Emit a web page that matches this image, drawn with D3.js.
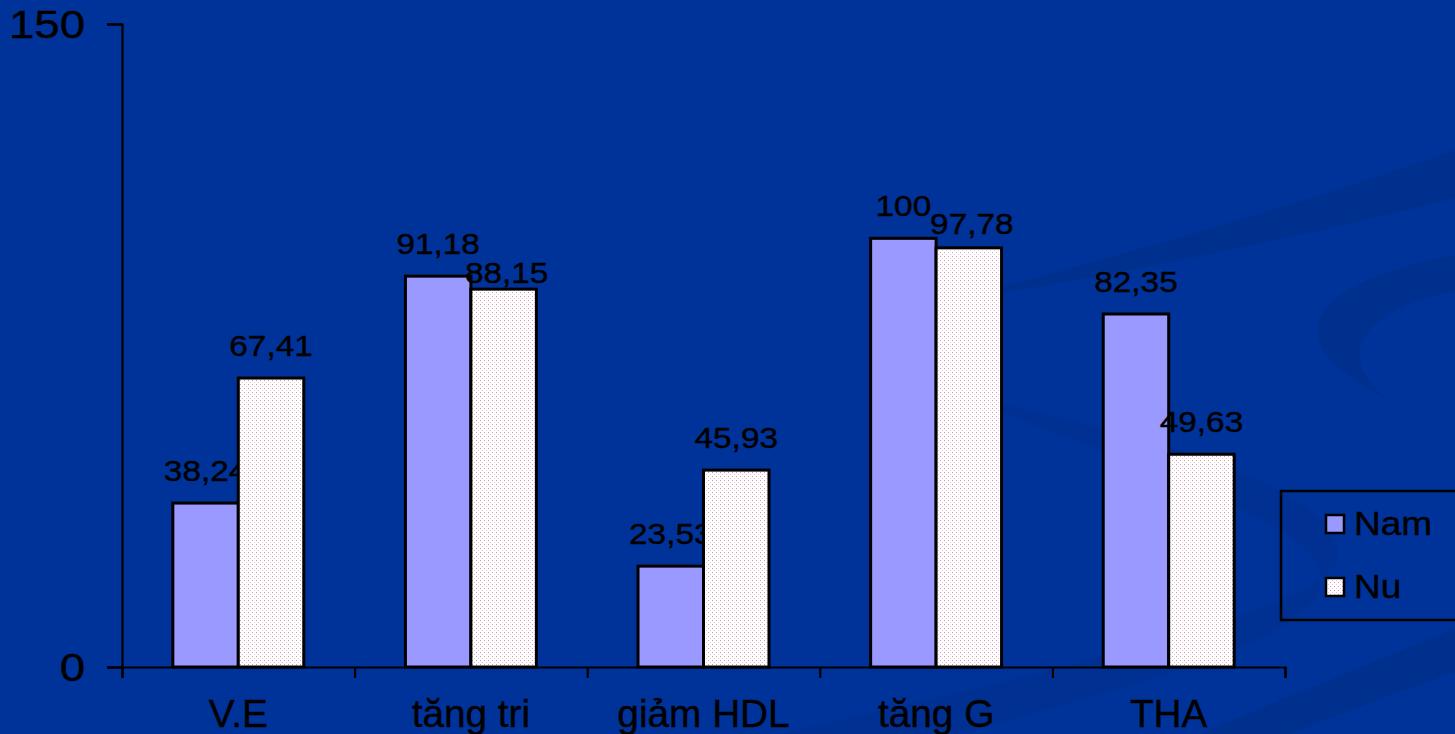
<!DOCTYPE html>
<html>
<head>
<meta charset="utf-8">
<script src="https://cdn.jsdelivr.net/npm/d3@7"></script>
<style>
  html, body { margin: 0; padding: 0; background: #003399; overflow: hidden; }
  svg { display: block; font-family: "Liberation Sans", Arial, sans-serif; }
  svg text { stroke: #000; stroke-width: 0.4px; }
</style>
</head>
<body>
<div id="chart"></div>
<script>
// data
const categories = ['V.E', 'tăng tri', 'giảm HDL', 'tăng G', 'THA'];
const seriesNames = ['Nam', 'Nu'];
const namValues = [38.24, 91.18, 23.53, 100, 82.35];
const nuValues = [67.41, 88.15, 45.93, 97.78, 49.63];
const yTicks = [0, 150];

const W = 1455, H = 734;
const plot = { left: 122, right: 1285, top: 24, bottom: 667 };

const svg = d3.select('#chart').append('svg')
    .attr('width', W)
    .attr('height', H);

// dotted fill used for the "Nu" bars
const defs = svg.append('defs');
const pat = defs.append('pattern')
    .attr('id', 'dots')
    .attr('patternUnits', 'userSpaceOnUse')
    .attr('width', 4)
    .attr('height', 4);
pat.append('rect').attr('width', 4).attr('height', 4).attr('fill', '#ffffff');
pat.append('rect').attr('x', 0).attr('y', 0).attr('width', 1).attr('height', 1).attr('fill', '#d795b5');
pat.append('rect').attr('x', 2).attr('y', 2).attr('width', 1).attr('height', 1).attr('fill', '#ecc6d8');

// background
svg.append('rect').attr('width', W).attr('height', H).attr('fill', '#003399');

// faint swooshes of the slide template
const swoosh = svg.append('g').attr('fill', '#00308e');
swoosh.append('path')
    .attr('d', 'M930,305 C1100,262 1300,205 1455,150 L1455,198 C1300,238 1100,278 930,305 Z');
swoosh.append('path')
    .attr('d', 'M1455,255 C1320,280 1262,335 1385,398 C1330,350 1370,308 1455,291 Z');
swoosh.append('path')
    .attr('d', 'M960,395 C1120,430 1330,480 1338,552 C1342,600 1150,650 780,734 L960,734 C1150,680 1310,640 1320,585 C1328,540 1250,505 1000,412 Z')
    .attr('opacity', 0.8);
swoosh.append('path')
    .attr('d', 'M1200,734 C1290,695 1380,660 1455,628 L1455,672 C1390,695 1330,718 1290,734 Z');

// scales
const x0 = d3.scaleBand()
    .domain(categories)
    .range([plot.left, plot.right])
    .paddingInner(0.437)
    .paddingOuter(0.2185);

const x1 = d3.scaleBand()
    .domain(seriesNames)
    .range([0, x0.bandwidth()]);

const xEdge = d3.scaleLinear()
    .domain([0, categories.length])
    .range([plot.left, plot.right]);

const y = d3.scaleLinear()
    .domain([0, 150])
    .range([plot.bottom, plot.top]);

const fmt = v => String(v).replace('.', ',');

const series = [
    { name: 'Nam', values: namValues, fill: '#9999ff' },
    { name: 'Nu', values: nuValues, fill: 'url(#dots)' }
];

// small manual nudges where labels would collide (dx, dy)
const labelNudge = {
    'Nu|tăng tri': [3, 16],
    'Nu|tăng G': [3, 8]
};

// bars and their value labels, series by series
series.forEach(s => {
    const g = svg.append('g').attr('class', 'series-' + s.name);
    const rows = categories.map((c, i) => ({ cat: c, value: s.values[i] }));

    g.selectAll('rect')
        .data(rows)
        .join('rect')
        .attr('x', d => x0(d.cat) + x1(s.name))
        .attr('y', d => y(d.value))
        .attr('width', x1.bandwidth())
        .attr('height', d => y(0) - y(d.value))
        .attr('fill', s.fill)
        .attr('stroke', '#000')
        .attr('stroke-width', 3);

    g.selectAll('text')
        .data(rows)
        .join('text')
        .attr('text-anchor', 'middle')
        .attr('font-size', 29)
        .attr('fill', '#000')
        .attr('transform', d => {
            const n = labelNudge[s.name + '|' + d.cat] || [0, 0];
            const cx = x0(d.cat) + x1(s.name) + x1.bandwidth() / 2 + n[0];
            const cy = y(d.value) - 22 + n[1];
            return `translate(${cx},${cy}) scale(1.15,1)`;
        })
        .text(d => fmt(d.value));
});

// y axis
const yAxis = svg.append('g')
    .attr('transform', `translate(${plot.left},0)`)
    .call(d3.axisLeft(y).tickValues(yTicks).tickSize(15).tickFormat(d3.format('d')));
yAxis.selectAll('path, line').attr('stroke', '#000').attr('stroke-width', 2.2);
yAxis.selectAll('text')
    .attr('x', null)
    .attr('dy', '0.36em')
    .attr('fill', '#000')
    .attr('font-size', 38)
    .attr('font-family', '"Liberation Sans", Arial, sans-serif')
    .attr('transform', 'translate(-37,0) scale(1.2,1)');

// x axis with ticks between the categories
const xAxis = svg.append('g')
    .attr('transform', `translate(0,${plot.bottom})`)
    .call(d3.axisBottom(xEdge).ticks(categories.length).tickSize(11).tickFormat(''));
xAxis.selectAll('path, line').attr('stroke', '#000').attr('stroke-width', 2.2);

svg.append('g')
    .selectAll('text')
    .data(categories)
    .join('text')
    .attr('text-anchor', 'middle')
    .attr('font-size', 38)
    .attr('fill', '#000')
    .attr('transform', d => `translate(${x0(d) + x0.bandwidth() / 2},727) scale(1.02,1)`)
    .text(d => d);

// legend
const legend = svg.append('g');
legend.append('rect')
    .attr('x', 1281)
    .attr('y', 491)
    .attr('width', 200)
    .attr('height', 129)
    .attr('fill', 'none')
    .attr('stroke', '#000')
    .attr('stroke-width', 2.5);

const legendItems = legend.selectAll('g.item')
    .data(series)
    .join('g')
    .attr('class', 'item')
    .attr('transform', (d, i) => `translate(1326,${515 + i * 63})`);

legendItems.append('rect')
    .attr('width', 18)
    .attr('height', 18)
    .attr('fill', d => d.fill)
    .attr('stroke', '#000')
    .attr('stroke-width', 2.5);

legendItems.append('text')
    .attr('font-size', 33)
    .attr('fill', '#000')
    .attr('transform', 'translate(28,20) scale(1.12,1)')
    .text(d => d.name);
</script>
</body>
</html>
